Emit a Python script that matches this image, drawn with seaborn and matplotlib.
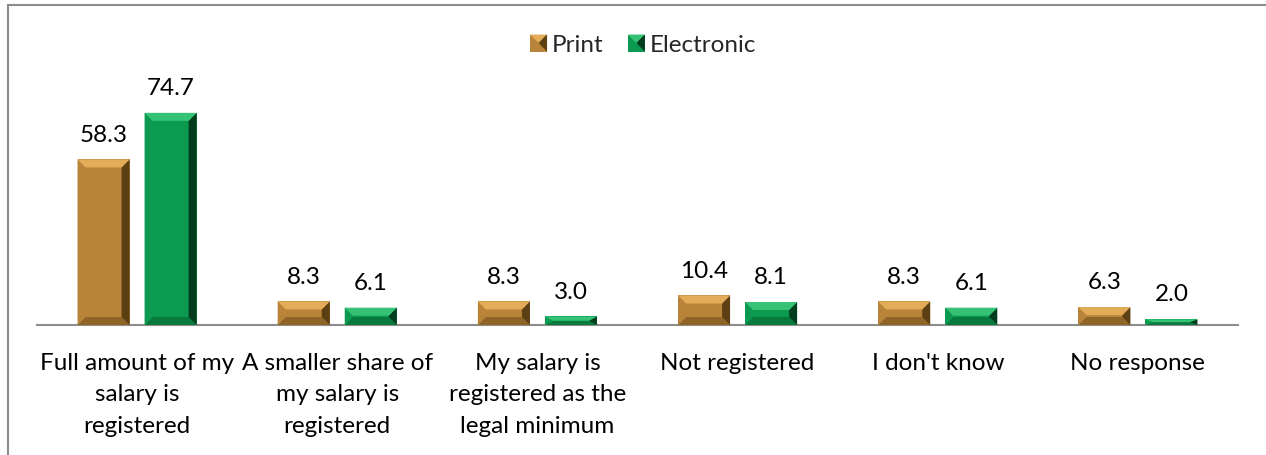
import matplotlib
matplotlib.use("Agg")
import matplotlib.pyplot as plt
import seaborn as sns
import pandas as pd
from matplotlib.patches import Polygon, Patch, Rectangle
from matplotlib.legend_handler import HandlerPatch

categories = [
    "Full amount of my\nsalary is\nregistered",
    "A smaller share of\nmy salary is\nregistered",
    "My salary is\nregistered as the\nlegal minimum",
    "Not registered",
    "I don't know",
    "No response",
]
print_vals = [58.3, 8.3, 8.3, 10.4, 8.3, 6.3]
electronic_vals = [74.7, 6.1, 3.0, 8.1, 6.1, 2.0]
series = ["Print", "Electronic"]

base_colors = {"Print": "#B8843A", "Electronic": "#0B9A4F"}
light_colors = {"Print": "#E2AC58", "Electronic": "#35C275"}
dark_colors = {"Print": "#5C3F12", "Electronic": "#033D1D"}
bottom_colors = {"Print": "#8E6427", "Electronic": "#087A3D"}

df = pd.DataFrame({
    "category": categories * 2,
    "series": ["Print"] * len(categories) + ["Electronic"] * len(categories),
    "value": print_vals + electronic_vals,
})

sns.set_theme(style="white")
plt.rcParams["font.family"] = ["Lato", "DejaVu Sans"]

FS = 17.5
W, H = 1266, 455
fig = plt.figure(figsize=(W / 100, H / 100), dpi=100)
ax = fig.add_axes([37 / W, 130 / H, 1201 / W, 255.6 / H])

sns.barplot(data=df, x="category", y="value", hue="series", order=categories,
            hue_order=series, palette=base_colors, width=0.67, gap=0.224,
            ax=ax, legend=False, saturation=1, linewidth=0)

ax.set_ylim(0, 90)
ax.set_xlim(-0.5, len(categories) - 0.5)
ax.set_xlabel("")
ax.set_ylabel("")
ax.set_yticks([])
for s in ["top", "right", "left"]:
    ax.spines[s].set_visible(False)
ax.spines["bottom"].set_color("#8C8C8C")
ax.spines["bottom"].set_linewidth(1.5)
ax.tick_params(axis="x", length=0, pad=20, labelsize=FS, colors="black")
for lbl in ax.get_xticklabels():
    lbl.set_linespacing(1.63)

# bevel decoration derived from each bar's geometry
px_per_unit_y = 255.6 / 90
px_per_unit_x = 1201 / len(categories)
for container, name in zip(ax.containers, series):
    for bar in container:
        x0, y0 = bar.get_x(), bar.get_y()
        w, h = bar.get_width(), bar.get_height()
        bx = 8 / px_per_unit_x
        by = min(8 / px_per_unit_y, h / 2)
        x1, y1 = x0 + w, y0 + h
        top = Polygon([(x0, y1), (x1, y1), (x1 - bx, y1 - by), (x0 + bx, y1 - by)],
                      closed=True, facecolor=light_colors[name], edgecolor="none", zorder=3)
        right = Polygon([(x1, y1), (x1, y0), (x1 - bx, y0 + by), (x1 - bx, y1 - by)],
                        closed=True, facecolor=dark_colors[name], edgecolor="none", zorder=3)
        bottom = Polygon([(x0, y0), (x1, y0), (x1 - bx, y0 + by), (x0 + bx, y0 + by)],
                         closed=True, facecolor=bottom_colors[name], edgecolor="none", zorder=3)
        left = Polygon([(x0, y0), (x0, y1), (x0 + bx, y1 - by), (x0 + bx, y0 + by)],
                       closed=True, facecolor=base_colors[name], edgecolor="none", zorder=3)
        for p in (bottom, left, right, top):
            ax.add_patch(p)
        bar.set_zorder(2)

for container in ax.containers:
    ax.bar_label(container, fmt="%.1f", padding=10, fontsize=FS, color="black")


class BevelHandler(HandlerPatch):
    def create_artists(self, legend, orig_handle, xdescent, ydescent, width, height, fontsize, trans):
        name = orig_handle.get_label()
        s = height * 1.0
        x0 = xdescent + width - s
        y0 = -ydescent + (height - s) / 2
        arts = [Rectangle((x0, y0), s, s, facecolor=base_colors[name], edgecolor="none", transform=trans)]
        b = s * 0.45
        arts.append(Polygon([(x0, y0 + s), (x0 + s, y0 + s), (x0 + s - b, y0 + s - b), (x0 + b, y0 + s - b)],
                            facecolor=light_colors[name], edgecolor="none", transform=trans))
        arts.append(Polygon([(x0 + s, y0 + s), (x0 + s, y0), (x0 + s - b, y0 + b), (x0 + s - b, y0 + s - b)],
                            facecolor=dark_colors[name], edgecolor="none", transform=trans))
        return arts


handles = [Patch(label=n) for n in series]
fig.legend(handles=handles, labels=series, loc="center", bbox_to_anchor=(0.508, 0.901),
           ncol=2, frameon=False, fontsize=FS, handlelength=0.7, handleheight=0.7,
           handletextpad=0.2, columnspacing=1.0, handler_map={Patch: BevelHandler()})

# chart frame (cropped at right and bottom)
fig.add_artist(plt.Line2D([8 / W, 8 / W], [0, 1 - 4.5 / H], transform=fig.transFigure,
                          color="#8C8C8C", linewidth=1.5))
fig.add_artist(plt.Line2D([8 / W, 1], [1 - 4.5 / H, 1 - 4.5 / H], transform=fig.transFigure,
                          color="#8C8C8C", linewidth=1.5))

fig.savefig("out.png", dpi=100, facecolor="white")
